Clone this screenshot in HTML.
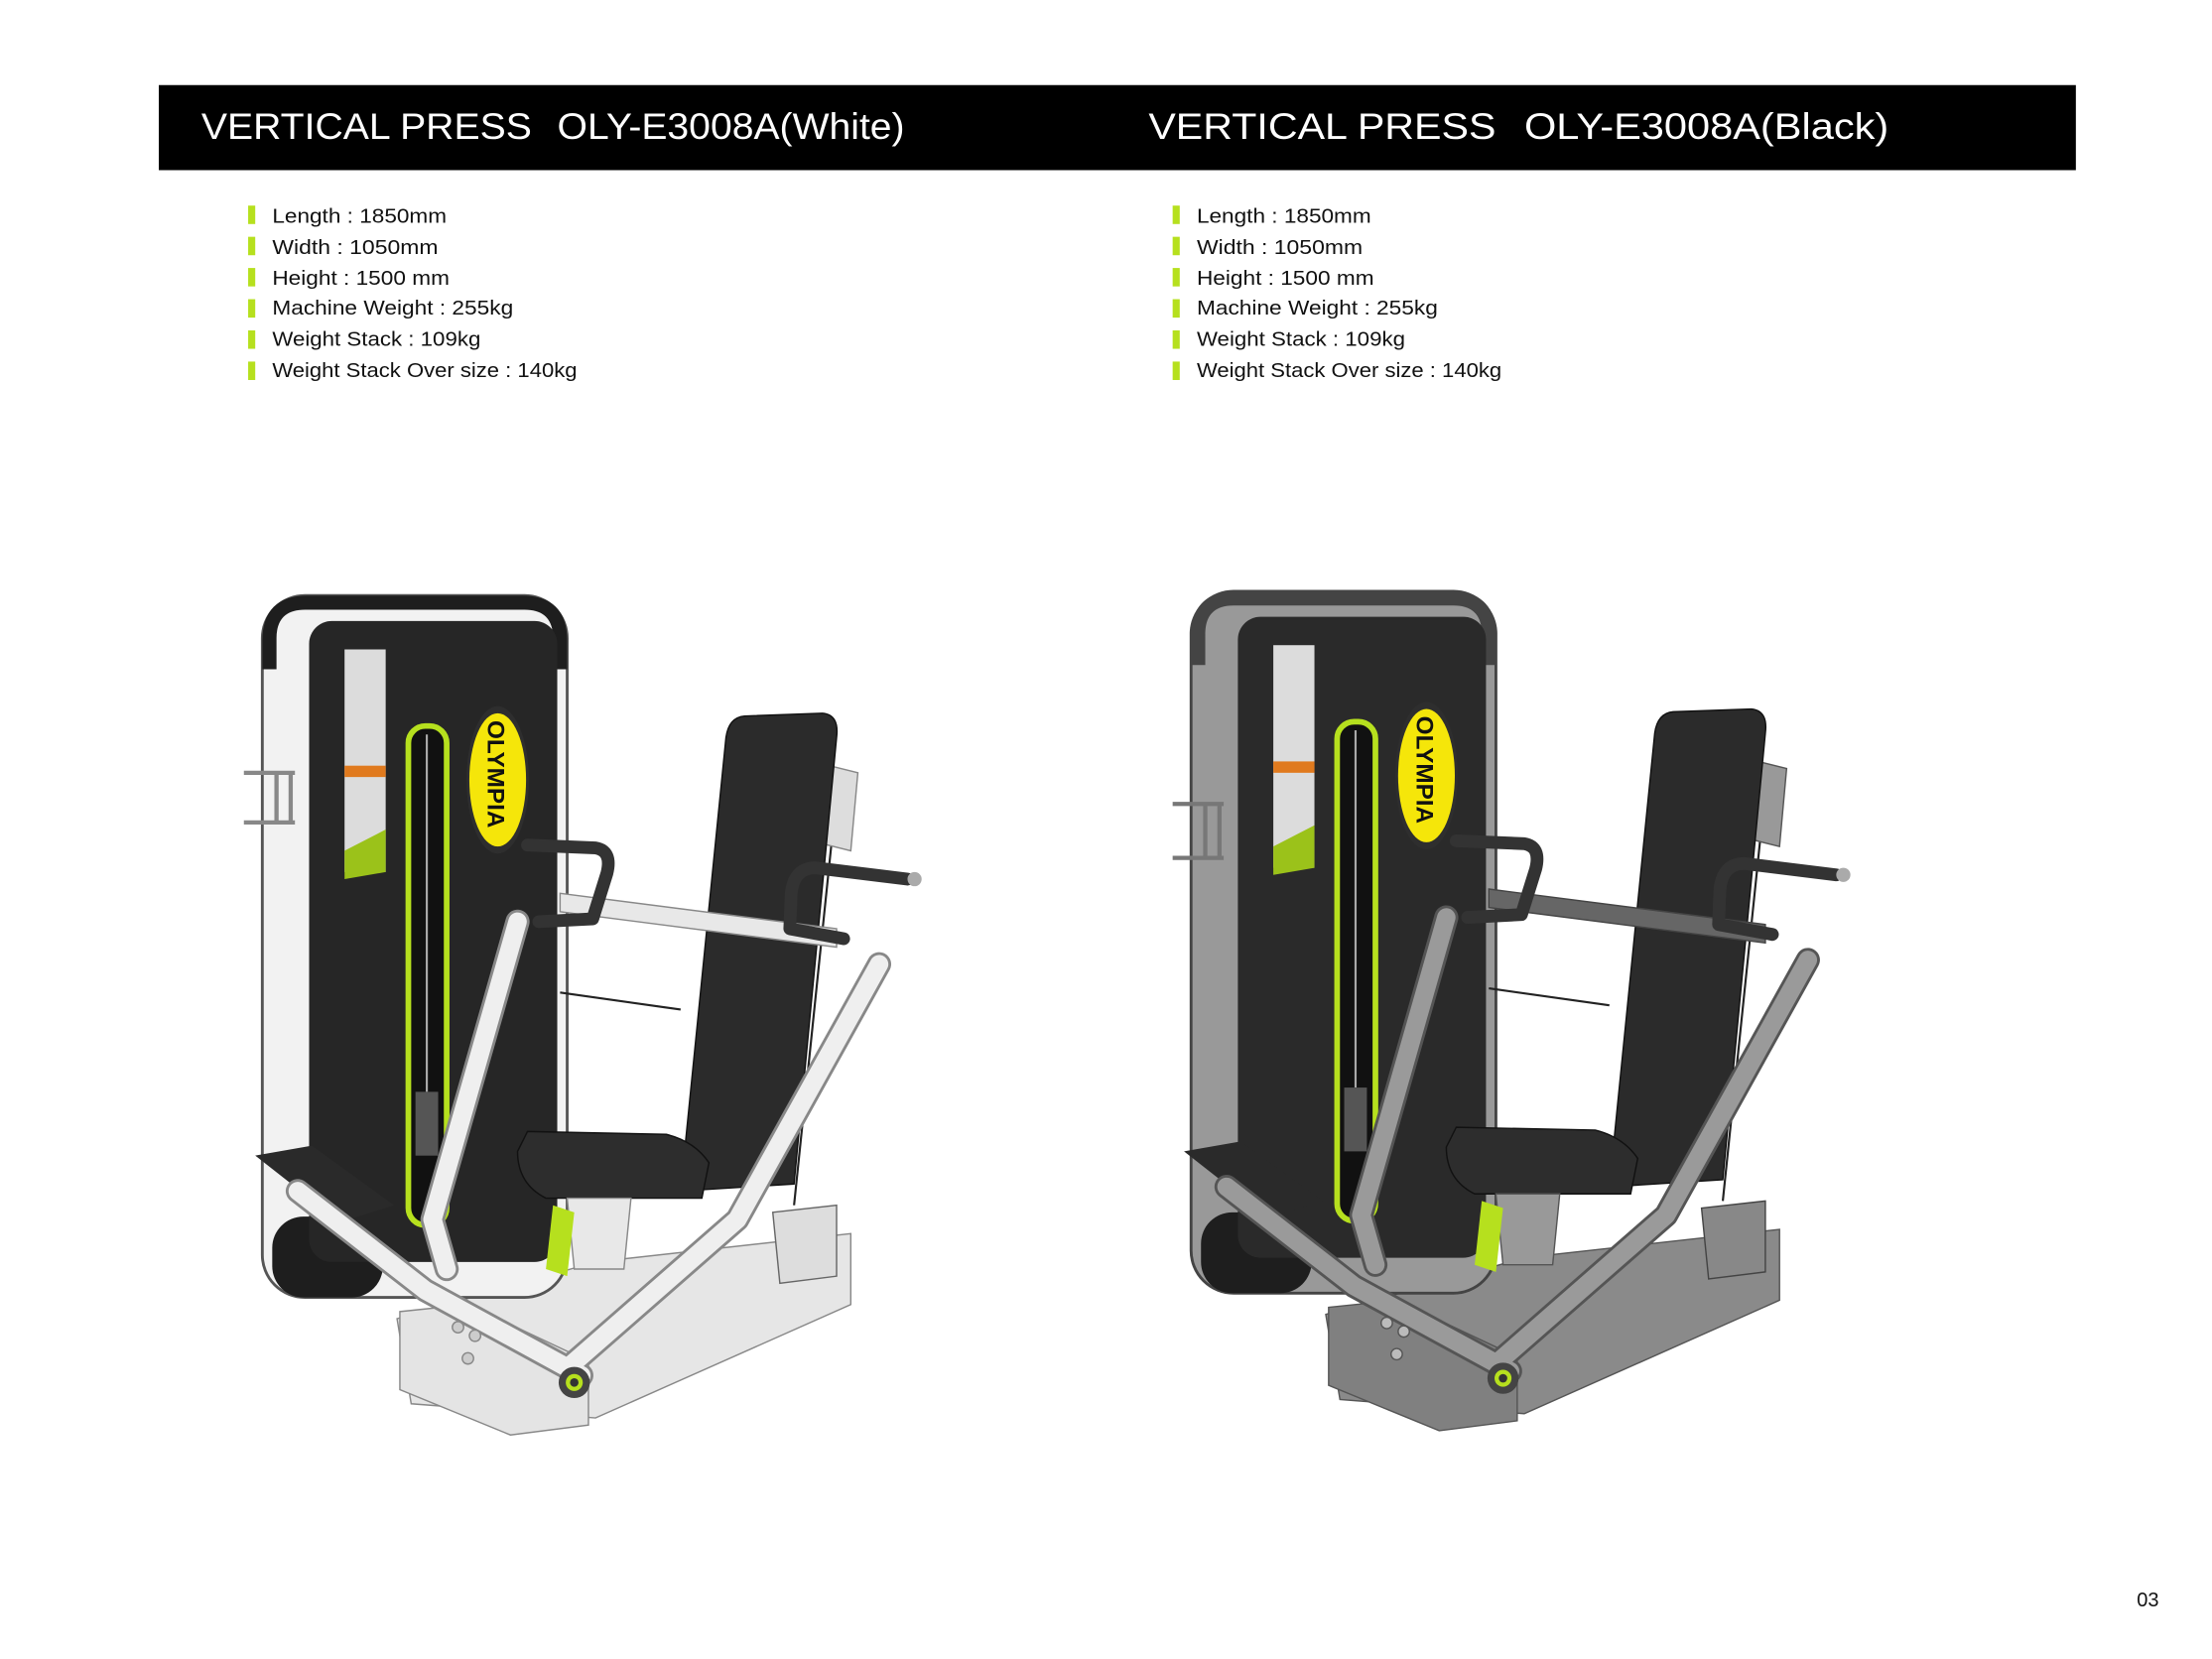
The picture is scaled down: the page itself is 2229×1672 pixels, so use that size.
<!DOCTYPE html>
<html><head><meta charset="utf-8">
<style>
html,body{margin:0;padding:0;background:#fff;}
svg{display:block;}
.t{font-family:"Liberation Sans",sans-serif;}
</style></head>
<body>
<svg width="2229" height="1672" viewBox="0 0 1560 1170" preserveAspectRatio="none" xmlns="http://www.w3.org/2000/svg">
<rect x="0" y="0" width="1560" height="1170" fill="#fff"/>
<rect x="112" y="60" width="1352" height="60" fill="#000"/>
<text class="t" x="142" y="98" fill="#fff" font-size="26" textLength="233" lengthAdjust="spacingAndGlyphs">VERTICAL PRESS</text>
<text class="t" x="393" y="98" fill="#fff" font-size="26" textLength="245" lengthAdjust="spacingAndGlyphs">OLY-E3008A(White)</text>
<text class="t" x="810" y="98" fill="#fff" font-size="26" textLength="245" lengthAdjust="spacingAndGlyphs">VERTICAL PRESS</text>
<text class="t" x="1075" y="98" fill="#fff" font-size="26" textLength="257" lengthAdjust="spacingAndGlyphs">OLY-E3008A(Black)</text>

<g class="t" font-size="14.5" fill="#111">
  <g fill="#b6e01e">
    <rect x="175" y="145" width="5" height="13"/><rect x="175" y="167" width="5" height="13"/><rect x="175" y="189" width="5" height="13"/>
    <rect x="175" y="211" width="5" height="13"/><rect x="175" y="233" width="5" height="13"/><rect x="175" y="255" width="5" height="13"/>
    <rect x="827" y="145" width="5" height="13"/><rect x="827" y="167" width="5" height="13"/><rect x="827" y="189" width="5" height="13"/>
    <rect x="827" y="211" width="5" height="13"/><rect x="827" y="233" width="5" height="13"/><rect x="827" y="255" width="5" height="13"/>
  </g>
  <text x="192" y="157" textLength="123" lengthAdjust="spacingAndGlyphs">Length : 1850mm</text>
  <text x="192" y="179" textLength="117" lengthAdjust="spacingAndGlyphs">Width : 1050mm</text>
  <text x="192" y="201" textLength="125" lengthAdjust="spacingAndGlyphs">Height : 1500 mm</text>
  <text x="192" y="222" textLength="170" lengthAdjust="spacingAndGlyphs">Machine Weight : 255kg</text>
  <text x="192" y="244" textLength="147" lengthAdjust="spacingAndGlyphs">Weight Stack : 109kg</text>
  <text x="192" y="266" textLength="215" lengthAdjust="spacingAndGlyphs">Weight Stack Over size : 140kg</text>
  <text x="844" y="157" textLength="123" lengthAdjust="spacingAndGlyphs">Length : 1850mm</text>
  <text x="844" y="179" textLength="117" lengthAdjust="spacingAndGlyphs">Width : 1050mm</text>
  <text x="844" y="201" textLength="125" lengthAdjust="spacingAndGlyphs">Height : 1500 mm</text>
  <text x="844" y="222" textLength="170" lengthAdjust="spacingAndGlyphs">Machine Weight : 255kg</text>
  <text x="844" y="244" textLength="147" lengthAdjust="spacingAndGlyphs">Weight Stack : 109kg</text>
  <text x="844" y="266" textLength="215" lengthAdjust="spacingAndGlyphs">Weight Stack Over size : 140kg</text>
</g>
<text class="t" x="1507" y="1133" font-size="14" fill="#111">03</text>

<!-- LEFT MACHINE (white) -->
<g id="mw">
  <polygon points="280,930 420,890 600,870 600,920 420,1000 290,990" fill="#e6e6e6" stroke="#888"/>
  <polygon points="282,925 330,920 415,960 415,1005 360,1012 282,980" fill="#e4e4e4" stroke="#888"/>
  <rect x="185" y="420" width="215" height="495" rx="30" fill="#f2f2f2" stroke="#555" stroke-width="2"/>
  <path d="M185,472 L185,452 Q185,420 217,420 L368,420 Q400,420 400,452 L400,472 L390,472 L390,450 Q390,430 370,430 L215,430 Q195,430 195,450 L195,472 Z" fill="#1e1e1e"/>
  <rect x="192" y="858" width="78" height="57" rx="22" fill="#1e1e1e"/>
  <rect x="218" y="438" width="175" height="452" rx="16" fill="#262626"/>
  <rect x="243" y="458" width="29" height="157" fill="#dcdcdc"/>
  <rect x="243" y="540" width="29" height="8" fill="#e07a1e"/>
  <polygon points="243,600 272,585 272,615 243,620" fill="#9bc21a"/>
  <rect x="288" y="512" width="27" height="352" rx="12" fill="#111" stroke="#b6e01e" stroke-width="4"/>
  <line x1="301" y1="518" x2="301" y2="770" stroke="#aaa" stroke-width="1.5"/>
  <rect x="293" y="770" width="16" height="45" fill="#555"/>
  <ellipse cx="351" cy="550" rx="22" ry="52" fill="#2e2e2e"/>
  <ellipse cx="351" cy="550" rx="20" ry="47" fill="#f5e60a"/>
  <text class="t" x="0" y="0" font-size="17" font-weight="bold" fill="#111" transform="translate(344,508) rotate(90)">OLYMPIA</text>
  <path d="M172,545 L208,545 M172,580 L208,580 M195,545 L195,580 M205,545 L205,580" stroke="#888" stroke-width="3" fill="none"/>
  <line x1="395" y1="700" x2="480" y2="712" stroke="#222" stroke-width="1.5"/>
  <line x1="590" y1="560" x2="560" y2="850" stroke="#222" stroke-width="1.5"/>
  <polygon points="585,540 605,545 600,600 580,595" fill="#ddd" stroke="#888"/>
  <path d="M525,505 L580,503 Q592,504 590,520 L560,835 L480,840 L512,520 Q514,506 525,505 Z" fill="#2b2b2b" stroke="#111"/>
  <polygon points="395,630 590,655 590,668 395,643" fill="#e8e8e8" stroke="#888"/>
  <path d="M372,798 L470,800 Q490,805 500,820 L495,845 L385,845 Q365,835 365,812 Z" fill="#2d2d2d" stroke="#111"/>
  <polygon points="400,845 445,845 440,895 405,895" fill="#e8e8e8" stroke="#888"/>
  <polygon points="390,850 405,855 400,900 385,895" fill="#b6e01e"/>
  <polygon points="180,815 220,808 278,850 240,862" fill="#2a2a2a"/>
  <g stroke-linecap="round" stroke-linejoin="round" fill="none">
    <path d="M315,895 L305,860 L365,650 M210,840 L300,910 L410,970 M400,965 L520,860 L620,680" stroke="#888" stroke-width="17"/>
    <path d="M315,895 L305,860 L365,650 M210,840 L300,910 L410,970 M400,965 L520,860 L620,680" stroke="#efefef" stroke-width="13"/>
    <path d="M372,596 L420,598 Q432,600 428,616 L418,648 L380,650" stroke="#333" stroke-width="9"/>
    <path d="M640,620 L575,612 Q560,612 558,630 L557,655 L595,662" stroke="#333" stroke-width="9"/>
  </g>
  <circle cx="645" cy="620" r="5" fill="#aaa"/>
  <circle cx="405" cy="975" r="11" fill="#444"/>
  <circle cx="405" cy="975" r="6" fill="#b6e01e"/>
  <circle cx="405" cy="975" r="3" fill="#333"/>
  <g fill="#ccc" stroke="#888"><circle cx="323" cy="936" r="4"/><circle cx="335" cy="942" r="4"/><circle cx="330" cy="958" r="4"/></g>
  <polygon points="545,855 590,850 590,900 550,905" fill="#ddd" stroke="#666"/>
</g>

<!-- RIGHT MACHINE (black/gray) -->
<g transform="translate(655,-3)">
  <polygon points="280,930 420,890 600,870 600,920 420,1000 290,990" fill="#8a8a8a" stroke="#555"/>
  <polygon points="282,925 330,920 415,960 415,1005 360,1012 282,980" fill="#808080" stroke="#555"/>
  <rect x="185" y="420" width="215" height="495" rx="30" fill="#999" stroke="#444" stroke-width="2"/>
  <path d="M185,472 L185,452 Q185,420 217,420 L368,420 Q400,420 400,452 L400,472 L390,472 L390,450 Q390,430 370,430 L215,430 Q195,430 195,450 L195,472 Z" fill="#444"/>
  <rect x="192" y="858" width="78" height="57" rx="22" fill="#1e1e1e"/>
  <rect x="218" y="438" width="175" height="452" rx="16" fill="#2a2a2a"/>
  <rect x="243" y="458" width="29" height="157" fill="#dcdcdc"/>
  <rect x="243" y="540" width="29" height="8" fill="#e07a1e"/>
  <polygon points="243,600 272,585 272,615 243,620" fill="#9bc21a"/>
  <rect x="288" y="512" width="27" height="352" rx="12" fill="#111" stroke="#b6e01e" stroke-width="4"/>
  <line x1="301" y1="518" x2="301" y2="770" stroke="#aaa" stroke-width="1.5"/>
  <rect x="293" y="770" width="16" height="45" fill="#555"/>
  <ellipse cx="351" cy="550" rx="22" ry="52" fill="#2e2e2e"/>
  <ellipse cx="351" cy="550" rx="20" ry="47" fill="#f5e60a"/>
  <text class="t" x="0" y="0" font-size="17" font-weight="bold" fill="#111" transform="translate(344,508) rotate(90)">OLYMPIA</text>
  <path d="M172,570 L208,570 M172,608 L208,608 M195,570 L195,608 M205,570 L205,608" stroke="#777" stroke-width="3" fill="none"/>
  <line x1="395" y1="700" x2="480" y2="712" stroke="#222" stroke-width="1.5"/>
  <line x1="590" y1="560" x2="560" y2="850" stroke="#222" stroke-width="1.5"/>
  <polygon points="585,540 605,545 600,600 580,595" fill="#999" stroke="#555"/>
  <path d="M525,505 L580,503 Q592,504 590,520 L560,835 L480,840 L512,520 Q514,506 525,505 Z" fill="#2b2b2b" stroke="#111"/>
  <polygon points="395,630 590,655 590,668 395,643" fill="#666" stroke="#444"/>
  <path d="M372,798 L470,800 Q490,805 500,820 L495,845 L385,845 Q365,835 365,812 Z" fill="#2d2d2d" stroke="#111"/>
  <polygon points="400,845 445,845 440,895 405,895" fill="#999" stroke="#555"/>
  <polygon points="390,850 405,855 400,900 385,895" fill="#b6e01e"/>
  <polygon points="180,815 220,808 278,850 240,862" fill="#2a2a2a"/>
  <g stroke-linecap="round" stroke-linejoin="round" fill="none">
    <path d="M315,895 L305,860 L365,650 M210,840 L300,910 L410,970 M400,965 L520,860 L620,680" stroke="#555" stroke-width="17"/>
    <path d="M315,895 L305,860 L365,650 M210,840 L300,910 L410,970 M400,965 L520,860 L620,680" stroke="#9a9a9a" stroke-width="13"/>
    <path d="M372,596 L420,598 Q432,600 428,616 L418,648 L380,650" stroke="#333" stroke-width="9"/>
    <path d="M640,620 L575,612 Q560,612 558,630 L557,655 L595,662" stroke="#333" stroke-width="9"/>
  </g>
  <circle cx="645" cy="620" r="5" fill="#aaa"/>
  <circle cx="405" cy="975" r="11" fill="#444"/>
  <circle cx="405" cy="975" r="6" fill="#b6e01e"/>
  <circle cx="405" cy="975" r="3" fill="#333"/>
  <g fill="#bbb" stroke="#555"><circle cx="323" cy="936" r="4"/><circle cx="335" cy="942" r="4"/><circle cx="330" cy="958" r="4"/></g>
  <polygon points="545,855 590,850 590,900 550,905" fill="#888" stroke="#444"/>
</g>
</svg>
</body></html>
